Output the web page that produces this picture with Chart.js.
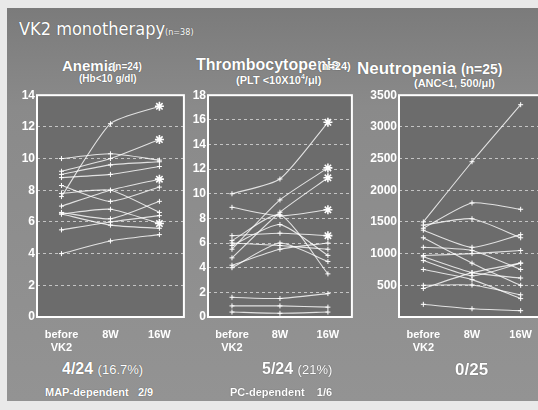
<!DOCTYPE html>
<html>
<head>
<meta charset="utf-8">
<script src="https://cdn.jsdelivr.net/npm/chart.js@4.4.1/dist/chart.umd.min.js"></script>
<style>
  html, body { margin: 0; padding: 0; }
  body { width: 538px; height: 410px; overflow: hidden; background: #e9e9e9; position: relative; font-family: "Liberation Sans", Arial, sans-serif; }
  #slide { position: absolute; left: 7px; top: 8px; width: 540px; height: 393px; background: linear-gradient(#7b7b7b, #8a8a8a 25%, #939393); }
  .t { position: absolute; color: #fff; white-space: nowrap; text-shadow: 0 0 1px #444; }
  canvas { position: absolute; }
</style>
</head>
<body>
<div id="slide"></div>

<div class="t" style="left:19px;top:18px;font-size:18px;font-family:'DejaVu Sans Condensed','DejaVu Sans';">VK2 monotherapy<span style="font-size:9px">(n=38)</span></div>

<div class="t" style="left:62px;top:57px;font-size:15px;font-weight:bold;">Anemia</div>
<div class="t" style="left:112px;top:61px;font-size:10px;font-weight:bold;">(n=24)</div>
<div class="t" style="left:79px;top:73px;font-size:10px;font-weight:bold;">(Hb&lt;10 g/dl)</div>

<div class="t" style="left:196px;top:56px;font-size:16px;font-weight:bold;">Thrombocytopenia</div>
<div class="t" style="left:318px;top:60px;font-size:11px;font-weight:bold;">(n=24)</div>
<div class="t" style="left:236px;top:73px;font-size:11px;font-weight:bold;">(PLT &lt;10X10<sup style="font-size:7px">4</sup>/μl)</div>

<div class="t" style="left:357px;top:59px;font-size:17px;font-weight:bold;">Neutropenia <span style="font-size:14px">(n=25)</span></div>
<div class="t" style="left:414px;top:77px;font-size:11px;font-weight:bold;">(ANC&lt;1, 500/μl)</div>

<canvas id="c1" width="182" height="272" style="left:8px;top:86px;"></canvas>
<canvas id="c2" width="184" height="272" style="left:174px;top:86px;"></canvas>
<canvas id="c3" width="190" height="272" style="left:360px;top:86px;"></canvas>

<div class="t" style="left:62px;top:360px;font-size:16px;font-weight:bold;">4/24 <span style="font-size:13px;font-weight:normal">(16.7%)</span></div>
<div class="t" style="left:262px;top:360px;font-size:16px;font-weight:bold;">5/24 <span style="font-size:13px;font-weight:normal">(21%)</span></div>
<div class="t" style="left:455px;top:360px;font-size:17px;font-weight:bold;">0/25</div>
<div class="t" style="left:45px;top:386px;font-size:11px;font-weight:bold;">MAP-dependent&nbsp;&nbsp;&nbsp;2/9</div>
<div class="t" style="left:230px;top:386px;font-size:11px;font-weight:bold;">PC-dependent&nbsp;&nbsp;&nbsp;&nbsp;1/6</div>

<script>
var timepoints = [['before', 'VK2'], '8W', '16W'];

// Hb g/dl, one row per patient
var anemia = [
    [7.6, 12.2, 13.3],
    [9.2, 10.0, 11.2],
    [10.0, 10.3, 9.9],
    [9.0, 9.6, 9.8],
    [8.8, 9.0, 9.5],
    [8.3, 7.3, 8.2],
    [7.0, 8.0, 8.7],
    [7.8, 8.0, 6.6],
    [6.6, 6.2, 7.3],
    [6.5, 6.8, 5.9],
    [5.5, 6.0, 6.4],
    [6.5, 5.8, 5.6],
    [4.0, 4.8, 5.2]
];
var anemiaResponders = [0, 1, 6, 9];

// PLT x10^4/ul
var plt = [
    [10.0, 11.2, 15.8],
    [5.5, 9.5, 12.1],
    [4.8, 8.5, 11.3],
    [8.9, 8.2, 8.7],
    [6.6, 6.8, 6.6],
    [6.2, 8.3, 3.5],
    [5.8, 7.5, 5.0],
    [6.0, 5.8, 5.5],
    [4.2, 5.5, 6.0],
    [4.0, 6.0, 4.5],
    [1.6, 1.5, 1.9],
    [0.9, 0.9, 0.8],
    [0.4, 0.3, 0.4]
];
var pltResponders = [0, 1, 2, 3, 4];

// ANC /ul
var anc = [
    [1500, 2450, 3350],
    [1400, 1800, 1700],
    [1450, 1550, 1250],
    [1370, 1100, 1300],
    [1100, 1050, 750],
    [970, 1000, 1050],
    [890, 650, 850],
    [950, 700, 615],
    [750, 590, 290],
    [450, 700, 850],
    [500, 505, 350],
    [1250, 850, 500],
    [200, 130, 100]
];
var ancResponders = [];

var boxPlugin = {
    id: 'box',
    beforeDraw: function(chart) {
        var a = chart.chartArea, ctx = chart.ctx;
        ctx.save();
        ctx.fillStyle = '#6c6c6c';
        ctx.fillRect(a.left, a.top, a.right - a.left, a.bottom - a.top);
        ctx.restore();
    },
    afterDraw: function(chart) {
        var a = chart.chartArea, ctx = chart.ctx;
        ctx.save();
        ctx.strokeStyle = '#ffffff';
        ctx.lineWidth = 2;
        ctx.strokeRect(a.left, a.top, a.right - a.left, a.bottom - a.top);
        ctx.restore();
    }
};

function makeDatasets(rows, responders) {
    var datasets = [];
    for (var i = 0; i < rows.length; i++) {
        var star = responders.indexOf(i) >= 0;
        datasets.push({
            data: rows[i],
            borderColor: 'rgba(255,255,255,0.8)',
            borderWidth: 1.1,
            pointStyle: ['cross', 'cross', star ? 'star' : 'cross'],
            pointRadius: [2.5, 2.5, star ? 4.5 : 2.5],
            pointBorderColor: '#ffffff',
            pointBorderWidth: [1, 1, star ? 1.6 : 1],
            tension: 0.2
        });
    }
    return datasets;
}

function buildChart(id, rows, responders, yMax, step, yWidth, hideZero) {
    new Chart(document.getElementById(id), {
        type: 'line',
        data: {
            labels: timepoints,
            datasets: makeDatasets(rows, responders)
        },
        options: {
            responsive: false,
            animation: false,
            layout: { padding: { top: 6, right: 5 } },
            plugins: { legend: { display: false }, tooltip: { enabled: false } },
            scales: {
                x: {
                    offset: true,
                    grid: { display: false },
                    border: { display: false },
                    ticks: { color: '#ffffff', font: { family: 'Liberation Sans', size: 11, weight: 'bold' }, padding: 3, maxRotation: 0 },
                    afterFit: function(axis) { axis.height = 41; }
                },
                y: {
                    min: 0,
                    max: yMax,
                    ticks: {
                        stepSize: step,
                        color: '#ffffff',
                        font: { family: 'Liberation Sans', size: 12, weight: 'bold' },
                        padding: 2,
                        callback: function(v) { return (hideZero && v === 0) ? '' : v; }
                    },
                    grid: { color: 'rgba(255,255,255,0.6)', drawTicks: false, lineWidth: 1 },
                    border: { display: false, dash: [3, 3] },
                    afterFit: function(axis) { axis.width = yWidth; }
                }
            }
        },
        plugins: [boxPlugin]
    });
}

buildChart('c1', anemia, anemiaResponders, 14, 2, 29, false);
buildChart('c2', plt, pltResponders, 18, 2, 34, false);
buildChart('c3', anc, ancResponders, 3500, 500, 39, true);
</script>
</body>
</html>
